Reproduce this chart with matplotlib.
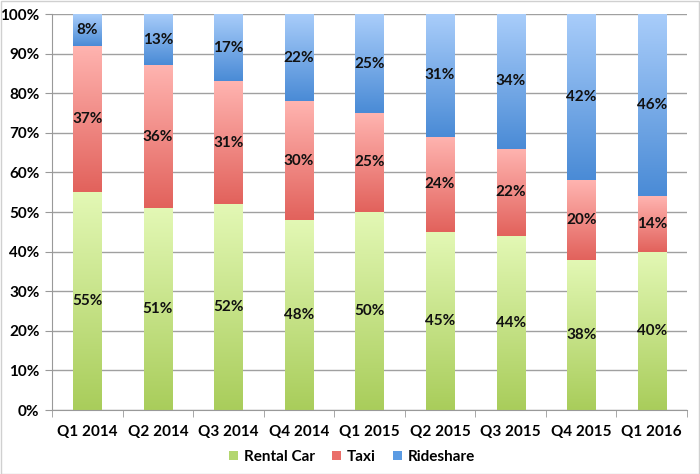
import matplotlib
matplotlib.use("Agg")
import matplotlib.pyplot as plt
import numpy as np
from matplotlib.colors import LinearSegmentedColormap
from matplotlib.patches import Rectangle, Patch

categories = ["Q1 2014", "Q2 2014", "Q3 2014", "Q4 2014", "Q1 2015", "Q2 2015", "Q3 2015", "Q4 2015", "Q1 2016"]
rental = [55, 51, 52, 48, 50, 45, 44, 38, 40]
taxi = [37, 36, 31, 30, 25, 24, 22, 20, 14]
rideshare = [8, 13, 17, 22, 25, 31, 34, 42, 46]
series_names = ["Rental Car", "Taxi", "Rideshare"]
yticks = [0, 10, 20, 30, 40, 50, 60, 70, 80, 90, 100]

grad = {
    "Rental Car": ("#a9cd5b", "#e3f8b5"),
    "Taxi": ("#e2625c", "#ffb4b0"),
    "Rideshare": ("#4a8bd6", "#a9cdfa"),
}
legend_col = {"Rental Car": "#b3d66f", "Taxi": "#ea6f6a", "Rideshare": "#5b9be3"}

plt.rcParams['font.family'] = ['Lato', 'DejaVu Sans']
fig = plt.figure(figsize=(7, 4.74), dpi=100)
ax = fig.add_axes([52/700, 1-410/474, (687-52)/700, (410-14)/474])

x = np.arange(len(categories))
w = 0.4
data = [rental, taxi, rideshare]
bottoms = np.zeros(len(categories))
for name, vals in zip(series_names, data):
    cmap = LinearSegmentedColormap.from_list(name, list(grad[name]))
    bars = ax.bar(x, vals, w, bottom=bottoms, color="none", edgecolor="none", zorder=2)
    for xi, b, v, bar in zip(x, bottoms, vals, bars):
        g = np.linspace(0, 1, 128).reshape(-1, 1)
        im = ax.imshow(g, cmap=cmap, aspect="auto", origin="lower",
                       extent=[xi - w/2, xi + w/2, b, b + v], zorder=2, interpolation="bilinear")
        im.set_clip_path(bar)
        ax.text(xi, b + v/2, f"{v}%", ha="center", va="center", fontsize=11,
                fontweight="bold", color="#111111", zorder=3)
    bottoms = bottoms + np.array(vals)

ax.set_xlim(-0.5, len(categories) - 0.5)
ax.set_ylim(0, 100)
ax.set_yticks(yticks)
ax.set_yticklabels([f"{t}%" for t in yticks], fontsize=11, fontweight="bold")
ax.set_xticks(x)
ax.set_xticklabels(categories, fontsize=11, fontweight="bold")
ax.set_xticks(np.arange(-0.5, len(categories)), minor=True)
ax.tick_params(axis="x", which="major", length=0, pad=11)
ax.tick_params(axis="x", which="minor", length=5, color="#999999")
ax.tick_params(axis="y", length=5, color="#999999", pad=4)
ax.grid(axis="y", color="#a0a0a0", linewidth=1, zorder=0)
ax.set_axisbelow(True)
for s in ["top", "right"]:
    ax.spines[s].set_visible(False)
ax.spines["left"].set_color("#999999")
ax.spines["bottom"].set_color("#999999")

handles = [Patch(facecolor=legend_col[n], edgecolor="none") for n in series_names]
fig.legend(handles, series_names, loc="center", bbox_to_anchor=(0.503, 1-457/474), ncol=3,
           frameon=False, prop={"weight": "bold", "size": 11}, handlelength=0.6,
           handleheight=0.6, handletextpad=0.4, columnspacing=1.1)

fig.patches.append(Rectangle((0.001, 0.001), 0.997, 0.997, transform=fig.transFigure,
                             fill=False, edgecolor="#d0d0d0", linewidth=1))

fig.savefig("out.png", dpi=100)
